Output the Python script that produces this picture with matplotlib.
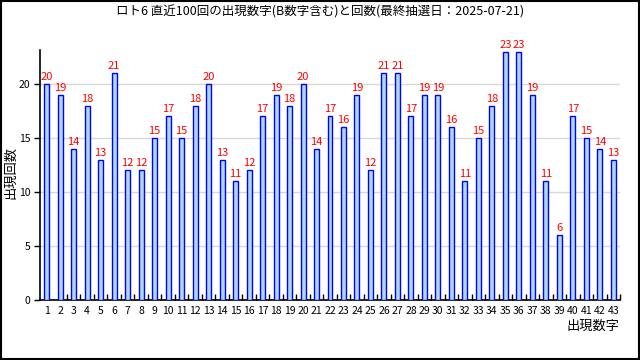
import matplotlib
matplotlib.use("Agg")
import matplotlib.pyplot as plt
from matplotlib.patches import Rectangle

plt.rcParams['font.family'] = ['Noto Sans CJK JP', 'DejaVu Sans']

numbers = list(range(1, 44))
counts = [20, 19, 14, 18, 13, 21, 12, 12, 15, 17, 15, 18, 20, 13, 11, 12, 17, 19, 18, 20,
          14, 17, 16, 19, 12, 21, 21, 17, 19, 19, 16, 11, 15, 18, 23, 23, 19, 11, 6, 17,
          15, 14, 13]
title = "ロト6 直近100回の出現数字(B数字含む)と回数(最終抽選日：2025-07-21)"
yticks = [0, 5, 10, 15, 20]

fig = plt.figure(figsize=(6.4, 3.6), dpi=100)
fig.patches.append(Rectangle((0.001, 0.002), 0.997, 0.995, transform=fig.transFigure,
                             fill=False, edgecolor='black', linewidth=1.5))
ax = fig.add_axes([0.0625, 0.1667, 0.90625, 0.6944])

ax.bar(numbers, counts, width=0.37, color='#add8e6', edgecolor='#0000ff', linewidth=1.0, zorder=3)
for x, v in zip(numbers, counts):
    ax.annotate(str(v), (x, v), xytext=(0, 1.5), textcoords='offset points',
                ha='center', va='bottom', color='#ff0000', fontsize=8)

ax.set_xlim(0.5, 43.5)
ax.set_ylim(0, 23.15)
ax.set_yticks(yticks)
ax.set_yticklabels([str(t) for t in yticks], fontsize=7.5)
ax.set_xticks(numbers)
ax.set_xticklabels([str(n) for n in numbers], fontsize=7.5)
ax.tick_params(axis='x', length=0, pad=4)
ax.tick_params(axis='y', length=4, width=1, pad=3)
ax.set_xticks([n + 0.5 for n in numbers[1:42]] + [43.5], minor=True)
ax.tick_params(axis='x', which='minor', direction='in', length=4, width=1)
ax.grid(axis='y', color='#d8d8d8', linewidth=1, zorder=0)
for s in ['top', 'right']:
    ax.spines[s].set_visible(False)
for s in ['left', 'bottom']:
    ax.spines[s].set_linewidth(1.2)

fig.text(11 / 640, 1 - 172 / 360, "出現回数", rotation=90, ha='center', va='center', fontsize=9.5)
ax.text(1.0, -0.08, "出現数字", transform=ax.transAxes, ha='right', va='top', fontsize=9.5)
fig.text(0.5, 1 - 12 / 360, title, ha='center', va='center', fontsize=9)

fig.savefig("out.png", dpi=100)
